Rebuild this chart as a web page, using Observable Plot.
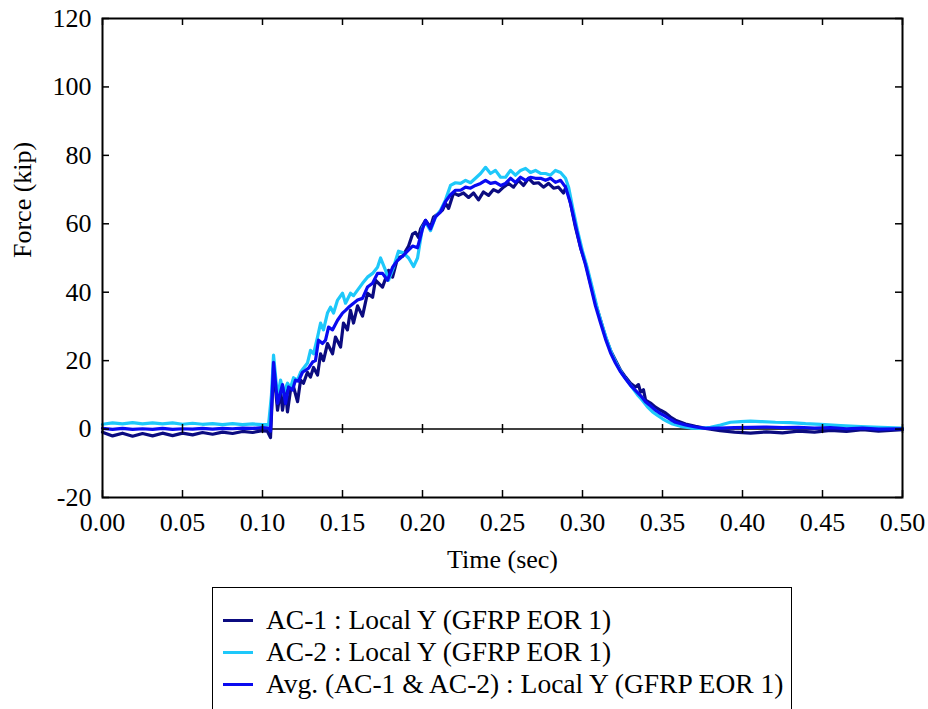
<!DOCTYPE html>
<html>
<head>
<meta charset="utf-8">
<script src="https://cdn.jsdelivr.net/npm/d3@7"></script>
<script src="https://cdn.jsdelivr.net/npm/@observablehq/plot@0.6"></script>
<style>
  html, body { margin: 0; padding: 0; background: #fff; }
  #legend { margin-left: 212px; width: 578px; border: 1.5px solid #000; margin-top: 7px;
            padding: 16px 0 24px 0; font-family: "Liberation Serif", serif; font-size: 27.5px; color: #000; }
  .row { display: flex; align-items: center; height: 32px; white-space: nowrap; }
  .swatch { width: 30px; height: 3px; margin-left: 10px; margin-right: 13px; }
</style>
</head>
<body>
<div id="chart"></div>
<div id="legend"></div>
<script>
const seriesNames = ["AC-1 : Local Y (GFRP EOR 1)", "AC-2 : Local Y (GFRP EOR 1)", "Avg. (AC-1 & AC-2) : Local Y (GFRP EOR 1)"];
const seriesColors = ["#0b0b80", "#1ec8fa", "#0a0af0"];
const xTicks = [0, 0.05, 0.1, 0.15, 0.2, 0.25, 0.3, 0.35, 0.4, 0.45, 0.5];
const yTicks = [-20, 0, 20, 40, 60, 80, 100, 120];

const ac1Time = [0.0000,0.0063,0.0125,0.0188,0.0250,0.0313,0.0375,0.0438,0.0500,0.0563,0.0625,0.0688,0.0750,0.0813,0.0875,0.0938,0.1000,0.1030,0.1050,0.1069,0.1094,0.1113,0.1125,0.1144,0.1156,0.1175,0.1194,0.1219,0.1238,0.1256,0.1281,0.1300,0.1319,0.1344,0.1363,0.1381,0.1406,0.1438,0.1456,0.1488,0.1506,0.1531,0.1550,0.1569,0.1594,0.1625,0.1656,0.1688,0.1706,0.1750,0.1788,0.1813,0.1844,0.1875,0.1913,0.1938,0.1956,0.1975,0.1988,0.2019,0.2050,0.2069,0.2100,0.2125,0.2144,0.2163,0.2194,0.2225,0.2256,0.2288,0.2319,0.2350,0.2381,0.2413,0.2444,0.2475,0.2506,0.2538,0.2569,0.2600,0.2631,0.2663,0.2694,0.2725,0.2756,0.2788,0.2819,0.2850,0.2881,0.2900,0.2925,0.2956,0.2988,0.3019,0.3050,0.3081,0.3113,0.3144,0.3175,0.3206,0.3238,0.3269,0.3300,0.3331,0.3350,0.3363,0.3381,0.3394,0.3425,0.3456,0.3488,0.3519,0.3550,0.3581,0.3644,0.3706,0.3769,0.3860,0.3950,0.4050,0.4150,0.4250,0.4350,0.4450,0.4550,0.4650,0.4750,0.4850,0.5000];
const ac1Force = [-0.9,-2.0,-1.2,-2.1,-1.3,-2.0,-1.2,-1.9,-1.2,-1.7,-1.0,-1.5,-0.9,-1.3,-0.7,-1.0,-0.5,-0.6,-2.5,18.0,5.5,11.4,5.5,11.4,5.0,11.4,12.3,8.0,14.3,13.4,16.6,15.2,18.0,15.8,22.0,20.0,25.0,22.0,26.9,24.0,31.0,29.0,34.7,31.0,36.0,33.0,39.7,38.5,43.5,41.5,46.4,44.4,50.0,50.5,53.5,57.0,57.5,56.0,58.5,61.0,59.0,62.0,63.0,64.0,66.0,64.5,69.0,68.3,69.0,67.7,69.0,67.0,69.3,68.3,70.0,69.3,70.7,71.8,70.7,72.7,71.2,73.3,71.8,72.0,70.7,71.8,70.4,70.7,69.0,71.0,66.0,59.0,53.0,48.5,42.6,36.8,31.8,26.9,23.0,20.1,17.2,15.2,13.4,12.3,13.0,10.8,11.5,8.5,7.6,6.4,5.5,4.7,3.5,2.6,1.5,0.8,0.2,-0.5,-0.9,-1.2,-0.8,-1.1,-0.6,-0.9,-0.4,-0.7,-0.2,-0.6,-0.2];

const ac2Time = [0.0000,0.0063,0.0125,0.0188,0.0250,0.0313,0.0375,0.0438,0.0500,0.0563,0.0625,0.0688,0.0750,0.0813,0.0875,0.0938,0.1000,0.1038,0.1056,0.1069,0.1094,0.1113,0.1131,0.1156,0.1175,0.1194,0.1219,0.1238,0.1256,0.1281,0.1300,0.1319,0.1344,0.1363,0.1381,0.1406,0.1425,0.1444,0.1469,0.1500,0.1519,0.1550,0.1569,0.1594,0.1625,0.1656,0.1688,0.1719,0.1738,0.1769,0.1788,0.1819,0.1850,0.1881,0.1913,0.1944,0.1969,0.2000,0.2019,0.2050,0.2081,0.2113,0.2144,0.2175,0.2206,0.2238,0.2269,0.2300,0.2331,0.2363,0.2394,0.2425,0.2456,0.2488,0.2519,0.2550,0.2581,0.2613,0.2644,0.2675,0.2706,0.2738,0.2769,0.2800,0.2831,0.2863,0.2894,0.2913,0.2938,0.2969,0.3000,0.3031,0.3063,0.3094,0.3125,0.3156,0.3188,0.3219,0.3250,0.3281,0.3313,0.3344,0.3363,0.3381,0.3406,0.3438,0.3469,0.3500,0.3531,0.3563,0.3613,0.3675,0.3738,0.3800,0.3863,0.3925,0.3988,0.4050,0.4113,0.4206,0.4300,0.4394,0.4488,0.4613,0.4738,0.4863,0.5000];
const ac2Force = [1.4,1.8,1.5,1.9,1.5,1.8,1.5,1.8,1.4,1.7,1.4,1.6,1.3,1.6,1.3,1.5,1.3,1.3,10.0,21.6,9.3,14.3,10.5,13.4,12.0,15.0,14.3,16.6,17.8,19.3,23.0,22.0,26.9,31.0,29.0,33.9,35.6,33.9,37.7,39.7,36.8,39.7,39.0,40.6,42.6,44.4,45.5,47.3,50.0,46.4,43.5,47.3,52.0,51.5,50.0,47.5,50.0,59.0,60.5,58.0,62.0,64.0,67.0,71.2,72.0,71.8,72.7,72.0,73.3,74.7,76.5,74.7,75.6,73.6,73.6,75.6,74.2,75.6,76.2,75.0,75.6,74.7,74.7,74.2,75.6,75.0,73.3,70.7,64.8,58.0,52.0,47.0,41.0,35.0,30.0,25.5,21.5,18.5,16.0,14.0,12.0,10.0,9.0,8.0,6.5,5.0,4.0,3.0,2.2,1.5,0.8,0.3,0.2,0.5,1.2,2.0,2.2,2.3,2.2,2.0,1.9,1.6,1.4,1.0,0.7,0.5,0.3];

const avgTime = [0.0000,0.0063,0.0125,0.0188,0.0250,0.0313,0.0375,0.0438,0.0500,0.0563,0.0625,0.0688,0.0750,0.0813,0.0875,0.0938,0.1000,0.1038,0.1050,0.1069,0.1094,0.1125,0.1144,0.1163,0.1188,0.1206,0.1225,0.1250,0.1269,0.1288,0.1313,0.1331,0.1350,0.1375,0.1394,0.1413,0.1438,0.1469,0.1500,0.1519,0.1538,0.1569,0.1594,0.1625,0.1656,0.1688,0.1719,0.1750,0.1781,0.1813,0.1844,0.1875,0.1906,0.1938,0.1969,0.2000,0.2019,0.2050,0.2081,0.2113,0.2144,0.2175,0.2206,0.2238,0.2269,0.2300,0.2331,0.2363,0.2394,0.2425,0.2456,0.2488,0.2519,0.2550,0.2581,0.2613,0.2644,0.2675,0.2706,0.2738,0.2769,0.2800,0.2831,0.2863,0.2894,0.2925,0.2956,0.2988,0.3019,0.3050,0.3081,0.3113,0.3144,0.3175,0.3206,0.3238,0.3269,0.3300,0.3331,0.3363,0.3394,0.3425,0.3456,0.3488,0.3519,0.3550,0.3581,0.3644,0.3706,0.3769,0.3860,0.3950,0.4050,0.4150,0.4250,0.4350,0.4450,0.4550,0.4650,0.4750,0.4850,0.5000];
const avgForce = [0.2,-0.1,0.2,-0.1,0.1,-0.1,0.2,-0.1,0.1,0.0,0.2,0.0,0.2,0.1,0.3,0.2,0.4,0.3,-0.6,19.5,7.5,13.0,7.5,12.3,11.4,14.3,14.0,16.6,17.2,17.8,19.6,20.0,26.0,25.0,26.0,29.8,29.0,31.8,33.9,34.7,35.6,36.8,37.7,38.2,41.5,42.6,45.5,45.5,43.5,47.3,49.3,50.5,52.0,53.5,53.0,58.5,61.0,58.5,62.0,63.5,66.5,68.5,69.8,69.8,70.7,70.4,71.2,71.8,72.7,71.8,72.1,71.2,71.8,73.3,72.1,73.6,72.7,73.6,73.3,73.3,72.7,73.3,72.1,72.7,70.7,66.0,59.5,53.0,48.0,42.0,36.0,31.0,26.3,22.3,19.3,16.7,14.7,12.8,11.3,9.8,8.0,6.8,5.5,4.5,3.7,2.8,2.0,1.2,0.6,0.2,0.3,0.4,0.5,0.6,0.4,0.5,0.3,0.4,0.1,0.3,0.0,0.1];

const toRows = (ts, vs) => ts.map((t, i) => ({t, v: vs[i]}));
const seriesRows = [toRows(ac1Time, ac1Force), toRows(ac2Time, ac2Force), toRows(avgTime, avgForce)];

const xTickLen = 7 / 1600;      // 7px in seconds
const yTickLen = 7 * 140 / 479; // 7px in kip

const chart = Plot.plot({
  width: 928, height: 580,
  marginTop: 18, marginRight: 26, marginBottom: 83, marginLeft: 102,
  style: {fontFamily: "'Liberation Serif', serif", fontSize: "26px", color: "#000", background: "#fff", overflow: "visible"},
  x: {domain: [0, 0.5]},
  y: {domain: [-20, 120]},
  marks: [
    Plot.ruleY([0], {stroke: "#000", strokeWidth: 1.5}),
    ...seriesRows.map((rows, i) => Plot.line(rows, {x: "t", y: "v", stroke: seriesColors[i], strokeWidth: 3.2})),
    Plot.ruleX(xTicks, {x: d => d, y1: -20, y2: -20 + yTickLen, stroke: "#000", strokeWidth: 1.5}),
    Plot.ruleX(xTicks, {x: d => d, y1: 120 - yTickLen, y2: 120, stroke: "#000", strokeWidth: 1.5}),
    Plot.ruleX(xTicks, {x: d => d, y1: -yTickLen * 0.65, y2: yTickLen * 0.65, stroke: "#000", strokeWidth: 1.5}),
    Plot.ruleY(yTicks, {y: d => d, x1: 0, x2: xTickLen, stroke: "#000", strokeWidth: 1.5}),
    Plot.ruleY(yTicks, {y: d => d, x1: 0.5 - xTickLen, x2: 0.5, stroke: "#000", strokeWidth: 1.5}),
    Plot.frame({stroke: "#000", strokeWidth: 2}),
    Plot.axisX({ticks: xTicks, tickFormat: d3.format(".2f"), tickSize: 0, tickPadding: 15, label: null}),
    Plot.axisY({ticks: yTicks, tickFormat: d => String(d), tickSize: 0, tickPadding: 11, label: null}),
    Plot.text(["Time (sec)"], {text: d => d, frameAnchor: "bottom", dy: 70, fontSize: 26}),
    Plot.text(["Force (kip)"], {text: d => d, frameAnchor: "left", dx: -80, rotate: -90, fontSize: 26})
  ]
});
document.getElementById("chart").appendChild(chart);

const legend = document.getElementById("legend");
seriesNames.forEach((name, i) => {
  const row = document.createElement("div");
  row.className = "row";
  const sw = document.createElement("span");
  sw.className = "swatch";
  sw.style.background = seriesColors[i];
  const label = document.createElement("span");
  label.textContent = name;
  row.appendChild(sw);
  row.appendChild(label);
  legend.appendChild(row);
});
</script>
</body>
</html>
